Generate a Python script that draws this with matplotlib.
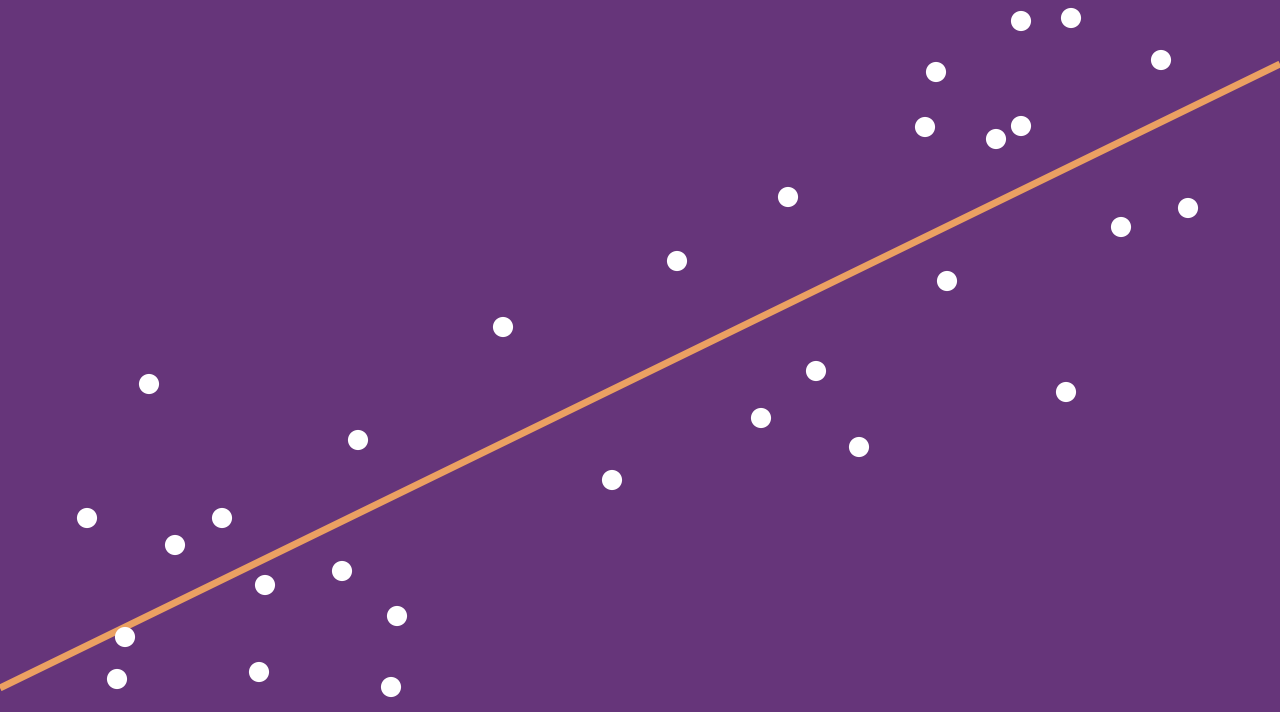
import matplotlib
matplotlib.use("Agg")
import matplotlib.pyplot as plt

x_vals = [1021, 1071, 1161, 936, 925, 996, 1021, 788, 1188, 1121,
          677, 947, 503, 149, 816, 1066, 761, 859, 358, 612,
          87, 222, 175, 342, 265, 397, 125, 117, 259, 391]
y_vals = [691, 694, 652, 640, 585, 573, 586, 515, 504, 485,
          451, 431, 385, 328, 341, 320, 294, 265, 272, 232,
          194, 194, 167, 141, 127, 96, 75, 33, 40, 25]

# fitted trend line end points
line_x = [0, 1280]
line_y = [24, 648]

bg = "#66357a"

fig = plt.figure(figsize=(12.8, 7.12), dpi=100, facecolor=bg)
ax = fig.add_axes([0, 0, 1, 1])
ax.set_facecolor(bg)
ax.plot(line_x, line_y, color="#eba062", linewidth=5, solid_capstyle="butt", zorder=1)
ax.scatter(x_vals, y_vals, s=210, color="white", edgecolors="none", zorder=2)
ax.set_xlim(0, 1280)
ax.set_ylim(0, 712)
ax.axis("off")

fig.savefig("out.png", dpi=100, facecolor=bg)
